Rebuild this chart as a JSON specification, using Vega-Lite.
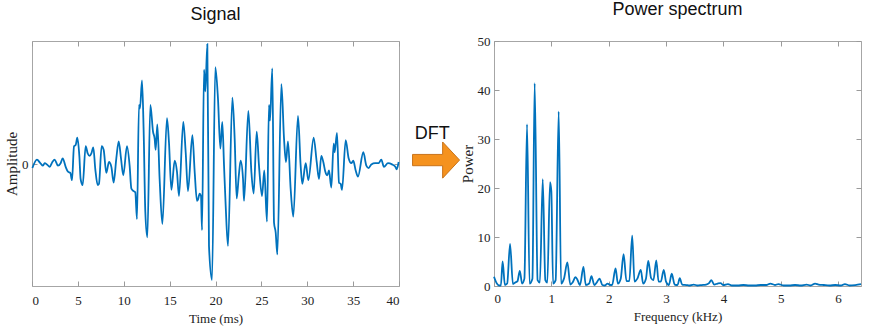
{
  "$schema": "https://vega.github.io/schema/vega-lite/v6.json",
  "background": "white",
  "padding": {"left": 4, "top": 0, "right": 5, "bottom": 5},
  "bounds": "flush",
  "spacing": 0,
  "config": {
    "view": {"stroke": "#a6a6a6", "strokeWidth": 1},
    "axis": {"domain": false, "grid": false, "tickColor": "#9a9a9a", "tickSize": -5, "labelFont": "Liberation Serif", "labelFontSize": 13, "labelColor": "#222222", "titleFont": "Liberation Serif", "titleFontSize": 13, "titleFontWeight": "normal", "titleColor": "#222222"},
    "title": {"font": "Liberation Sans", "fontSize": 18, "fontWeight": "normal", "color": "#111111", "anchor": "middle"}
  },
  "hconcat": [
    {
      "width": 367,
      "height": 245,
      "title": {"text": "Signal", "offset": 16},
      "data": {"values": [
        {"t":0.04,"a":-0.03},{"t":0.54,"a":0.04},{"t":0.91,"a":0.01},{"t":1.20,"a":-0.01},{"t":1.38,"a":0.01},{"t":1.63,"a":0.0},{"t":1.93,"a":-0.02},{"t":2.22,"a":0.02},{"t":2.47,"a":0.04},{"t":2.83,"a":-0.01},{"t":3.12,"a":0.01},{"t":3.34,"a":0.05},{"t":3.67,"a":-0.02},{"t":3.92,"a":-0.06},{"t":4.18,"a":-0.07},{"t":4.36,"a":-0.13},{"t":4.58,"a":0.15},{"t":4.76,"a":0.16},{"t":4.94,"a":0.22},{"t":5.16,"a":0.07},{"t":5.30,"a":-0.12},{"t":5.52,"a":-0.17},{"t":5.85,"a":0.15},{"t":6.07,"a":0.09},{"t":6.29,"a":0.07},{"t":6.47,"a":0.09},{"t":6.68,"a":0.14},{"t":6.90,"a":-0.04},{"t":7.16,"a":-0.17},{"t":7.30,"a":-0.16},{"t":7.59,"a":0.15},{"t":7.81,"a":0.12},{"t":8.10,"a":-0.07},{"t":8.39,"a":0.02},{"t":8.65,"a":-0.02},{"t":8.90,"a":-0.15},{"t":9.19,"a":0.05},{"t":9.45,"a":0.19},{"t":9.70,"a":0.05},{"t":9.95,"a":-0.09},{"t":10.35,"a":0.15},{"t":10.64,"a":-0.01},{"t":10.83,"a":-0.20},{"t":11.08,"a":-0.22},{"t":11.26,"a":-0.23},{"t":11.44,"a":-0.45},{"t":11.66,"a":0.49},{"t":11.77,"a":0.46},{"t":11.99,"a":0.69},{"t":12.17,"a":0.27},{"t":12.35,"a":-0.39},{"t":12.57,"a":-0.60},{"t":12.90,"a":0.49},{"t":13.19,"a":0.27},{"t":13.37,"a":0.21},{"t":13.48,"a":0.12},{"t":13.66,"a":0.33},{"t":13.91,"a":-0.12},{"t":14.21,"a":-0.49},{"t":14.71,"a":0.38},{"t":14.93,"a":0.18},{"t":15.19,"a":-0.21},{"t":15.55,"a":0.03},{"t":15.80,"a":-0.06},{"t":16.02,"a":-0.26},{"t":16.49,"a":0.35},{"t":16.75,"a":0.10},{"t":17.00,"a":-0.22},{"t":17.48,"a":0.24},{"t":17.73,"a":-0.06},{"t":17.98,"a":-0.30},{"t":18.09,"a":-0.29},{"t":18.27,"a":-0.24},{"t":18.42,"a":-0.26},{"t":18.53,"a":-0.54},{"t":18.75,"a":0.78},{"t":18.89,"a":0.60},{"t":19.11,"a":0.99},{"t":19.29,"a":-0.67},{"t":19.62,"a":-0.95},{"t":19.98,"a":0.80},{"t":20.27,"a":0.54},{"t":20.53,"a":0.13},{"t":20.74,"a":0.35},{"t":20.93,"a":-0.01},{"t":21.11,"a":-0.34},{"t":21.36,"a":-0.67},{"t":21.84,"a":0.55},{"t":22.09,"a":0.21},{"t":22.31,"a":-0.28},{"t":22.53,"a":-0.10},{"t":22.74,"a":0.03},{"t":23.00,"a":-0.12},{"t":23.11,"a":-0.30},{"t":23.58,"a":0.44},{"t":23.91,"a":-0.06},{"t":24.16,"a":-0.24},{"t":24.49,"a":0.27},{"t":24.74,"a":-0.01},{"t":25.07,"a":-0.26},{"t":25.32,"a":-0.05},{"t":25.61,"a":-0.47},{"t":25.83,"a":0.49},{"t":25.94,"a":0.36},{"t":26.19,"a":0.79},{"t":26.38,"a":-0.48},{"t":26.56,"a":-0.56},{"t":26.74,"a":-0.74},{"t":27.18,"a":0.66},{"t":27.47,"a":0.21},{"t":27.68,"a":0.02},{"t":27.90,"a":0.19},{"t":28.19,"a":-0.20},{"t":28.48,"a":-0.43},{"t":28.99,"a":0.40},{"t":29.28,"a":-0.01},{"t":29.46,"a":-0.16},{"t":29.83,"a":0.01},{"t":30.12,"a":-0.13},{"t":30.70,"a":0.22},{"t":31.03,"a":0.02},{"t":31.28,"a":-0.12},{"t":31.53,"a":0.07},{"t":31.75,"a":0.02},{"t":31.97,"a":-0.06},{"t":32.19,"a":-0.09},{"t":32.37,"a":-0.05},{"t":32.62,"a":-0.19},{"t":32.88,"a":0.17},{"t":32.99,"a":0.10},{"t":33.24,"a":0.26},{"t":33.46,"a":-0.15},{"t":33.64,"a":-0.16},{"t":33.79,"a":-0.21},{"t":34.19,"a":0.20},{"t":34.51,"a":0.05},{"t":34.80,"a":0.01},{"t":35.02,"a":0.03},{"t":35.28,"a":-0.05},{"t":35.53,"a":-0.10},{"t":36.11,"a":0.10},{"t":36.44,"a":-0.01},{"t":36.69,"a":-0.03},{"t":36.98,"a":0.0},{"t":37.40,"a":0.01},{"t":37.78,"a":0.01},{"t":38.07,"a":0.04},{"t":38.36,"a":-0.02},{"t":38.80,"a":0.01},{"t":39.24,"a":0.0},{"t":39.60,"a":-0.02},{"t":39.75,"a":-0.04},{"t":39.96,"a":0.02}
      ]},
      "layer": [
        {
          "mark": {"type": "line", "color": "#0072BD", "strokeWidth": 1.8, "interpolate": "monotone"},
          "encoding": {
            "x": {"field": "t", "type": "quantitative", "scale": {"domain": [0, 40], "nice": false}, "axis": {"values": [0,5,10,15,20,25,30,35,40], "title": "Time (ms)", "labelPadding": 13, "titlePadding": 5}},
            "y": {"field": "a", "type": "quantitative", "scale": {"domain": [-1, 1.015], "nice": false, "zero": false}, "axis": {"values": [0], "title": "Amplitude", "titleFontSize": 15, "labelPadding": 9, "titlePadding": 2}}
          }
        },
        {
          "mark": {"type": "line", "strokeOpacity": 0},
          "encoding": {
            "x": {"field": "t", "type": "quantitative", "axis": {"orient": "top", "values": [0,5,10,15,20,25,30,35,40], "labels": false, "title": null}},
            "y": {"field": "a", "type": "quantitative", "axis": {"orient": "right", "values": [0], "labels": false, "title": null}}
          }
        }
      ],
      "resolve": {"axis": {"x": "independent", "y": "independent"}}
    },
    {
      "width": 95,
      "height": 245,
      "view": {"stroke": null},
      "data": {"values": [{"label": "DFT"}]},
      "layer": [
        {
          "mark": {"type": "text", "font": "Liberation Sans", "fontSize": 18, "color": "#111111"},
          "encoding": {
            "text": {"field": "label"},
            "x": {"datum": 0.35, "type": "quantitative", "scale": {"domain": [0, 1]}, "axis": null},
            "y": {"datum": 0.62, "type": "quantitative", "scale": {"domain": [0, 1]}, "axis": null}
          }
        },
        {
          "mark": {"type": "point", "shape": "M -1 -0.24 L 0.28 -0.24 L 0.28 -0.77 L 1 0 L 0.28 0.77 L 0.28 0.24 L -1 0.24 Z", "size": 2209, "filled": true, "fill": "#F5921E", "stroke": "#C8731A", "strokeWidth": 1, "opacity": 1},
          "encoding": {
            "x": {"datum": 0.39, "type": "quantitative", "scale": {"domain": [0, 1]}, "axis": null},
            "y": {"datum": 0.514, "type": "quantitative", "scale": {"domain": [0, 1]}, "axis": null}
          }
        }
      ]
    },
    {
      "width": 367,
      "height": 245,
      "title": {"text": "Power spectrum", "offset": 16},
      "data": {"values": [
        {"f":0,"p":1.9},{"f":0.05,"p":0.5},{"f":0.09,"p":0.1},{"f":0.12,"p":0.1},{"f":0.15,"p":5.0},{"f":0.19,"p":0.2},{"f":0.23,"p":0.5},{"f":0.28,"p":8.6},{"f":0.33,"p":0.4},{"f":0.37,"p":0.7},{"f":0.41,"p":1.0},{"f":0.45,"p":3.1},{"f":0.49,"p":0.5},{"f":0.53,"p":1.5},{"f":0.576,"p":33.0},{"f":0.62,"p":0.5},{"f":0.67,"p":1.5},{"f":0.709,"p":41.4},{"f":0.76,"p":1.2},{"f":0.80,"p":0.7},{"f":0.85,"p":21.8},{"f":0.895,"p":1.2},{"f":0.93,"p":0.7},{"f":0.977,"p":21.2},{"f":1.0,"p":19.3},{"f":1.03,"p":0.5},{"f":1.075,"p":1.2},{"f":1.128,"p":35.6},{"f":1.17,"p":0.5},{"f":1.22,"p":1.5},{"f":1.28,"p":4.8},{"f":1.33,"p":0.3},{"f":1.37,"p":0.7},{"f":1.42,"p":1.8},{"f":1.45,"p":1.4},{"f":1.50,"p":0.2},{"f":1.56,"p":3.9},{"f":1.60,"p":0.2},{"f":1.66,"p":0.5},{"f":1.70,"p":2.0},{"f":1.75,"p":0.2},{"f":1.79,"p":0.7},{"f":1.84,"p":1.5},{"f":1.89,"p":0.2},{"f":1.93,"p":0.1},{"f":1.98,"p":0.5},{"f":2.01,"p":0.3},{"f":2.06,"p":0.2},{"f":2.12,"p":3.6},{"f":2.16,"p":0.5},{"f":2.21,"p":1.5},{"f":2.26,"p":6.5},{"f":2.31,"p":1.0},{"f":2.36,"p":1.0},{"f":2.41,"p":10.3},{"f":2.45,"p":0.9},{"f":2.50,"p":1.5},{"f":2.56,"p":3.3},{"f":2.60,"p":0.5},{"f":2.65,"p":1.5},{"f":2.69,"p":5.1},{"f":2.74,"p":1.6},{"f":2.78,"p":1.2},{"f":2.83,"p":5.2},{"f":2.87,"p":0.9},{"f":2.91,"p":0.9},{"f":2.96,"p":3.3},{"f":3.0,"p":0.9},{"f":3.05,"p":0.2},{"f":3.10,"p":2.5},{"f":3.15,"p":0.3},{"f":3.20,"p":0.2},{"f":3.24,"p":1.6},{"f":3.28,"p":0.3},{"f":3.36,"p":0.2},{"f":3.40,"p":0.1},{"f":3.48,"p":0.3},{"f":3.55,"p":0.1},{"f":3.62,"p":0.2},{"f":3.70,"p":0.3},{"f":3.75,"p":0.6},{"f":3.79,"p":1.2},{"f":3.84,"p":0.3},{"f":3.90,"p":0.5},{"f":3.95,"p":0.6},{"f":4.00,"p":0.2},{"f":4.08,"p":0.4},{"f":4.15,"p":0.1},{"f":4.25,"p":0.1},{"f":4.35,"p":0.2},{"f":4.45,"p":0.1},{"f":4.55,"p":0.1},{"f":4.65,"p":0.2},{"f":4.75,"p":0.2},{"f":4.82,"p":0.5},{"f":4.90,"p":0.2},{"f":4.96,"p":0.4},{"f":5.05,"p":0.1},{"f":5.15,"p":0.1},{"f":5.25,"p":0.2},{"f":5.35,"p":0.1},{"f":5.45,"p":0.3},{"f":5.52,"p":0.1},{"f":5.60,"p":0.5},{"f":5.66,"p":0.3},{"f":5.75,"p":0.2},{"f":5.85,"p":0.1},{"f":5.95,"p":0.2},{"f":6.05,"p":0.1},{"f":6.12,"p":0.4},{"f":6.20,"p":0.1},{"f":6.30,"p":0.2},{"f":6.40,"p":0.4}
      ]},
      "layer": [
        {
          "mark": {"type": "line", "color": "#0072BD", "strokeWidth": 1.8, "interpolate": "monotone"},
          "encoding": {
            "x": {"field": "f", "type": "quantitative", "scale": {"domain": [0, 6.4], "nice": false}, "axis": {"values": [0,1,2,3,4,5,6], "title": "Frequency (kHz)", "labelPadding": 11, "titlePadding": 5}},
            "y": {"field": "p", "type": "quantitative", "scale": {"domain": [0, 50], "nice": false}, "axis": {"values": [0,10,20,30,40,50], "title": "Power", "titleFontSize": 15, "labelPadding": 9, "titlePadding": 2}}
          }
        },
        {
          "mark": {"type": "line", "strokeOpacity": 0},
          "encoding": {
            "x": {"field": "f", "type": "quantitative", "axis": {"orient": "top", "values": [0,1,2,3,4,5,6], "labels": false, "title": null}},
            "y": {"field": "p", "type": "quantitative", "axis": {"orient": "right", "values": [0,10,20,30,40,50], "labels": false, "title": null}}
          }
        }
      ],
      "resolve": {"axis": {"x": "independent", "y": "independent"}}
    }
  ]
}
